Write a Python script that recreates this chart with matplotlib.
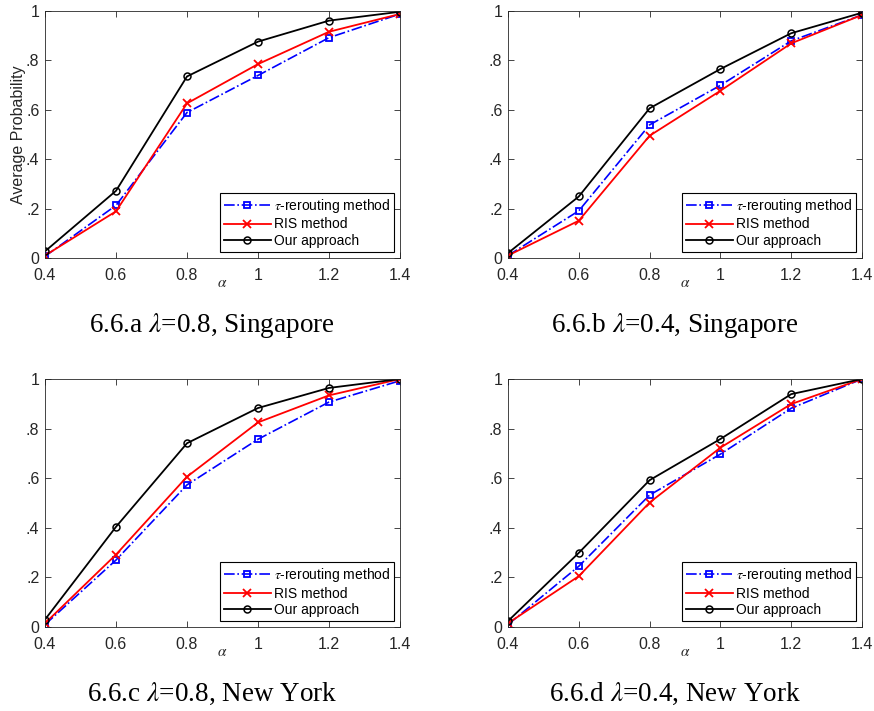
import matplotlib
matplotlib.use("Agg")
import matplotlib.pyplot as plt

plt.rcParams['font.family'] = ['Liberation Sans', 'DejaVu Sans']
plt.rcParams['mathtext.fontset'] = 'stix'

alpha = [0.4, 0.6, 0.8, 1.0, 1.2, 1.4]
xtick_labels = ['0.4', '0.6', '0.8', '1', '1.2', '1.4']
ytick_vals = [0, 0.2, 0.4, 0.6, 0.8, 1.0]
ytick_labels = ['0', '.2', '.4', '.6', '.8', '1']

# (a) lambda=0.8, Singapore
tau_a = [0.007, 0.213, 0.589, 0.739, 0.892, 0.988]
ris_a = [0.010, 0.189, 0.626, 0.785, 0.916, 0.988]
our_a = [0.027, 0.272, 0.735, 0.876, 0.961, 0.997]
# (b) lambda=0.4, Singapore
tau_b = [0.010, 0.191, 0.539, 0.699, 0.879, 0.984]
ris_b = [0.010, 0.151, 0.495, 0.677, 0.869, 0.984]
our_b = [0.020, 0.249, 0.606, 0.765, 0.910, 0.993]
# (c) lambda=0.8, New York
tau_c = [0.010, 0.270, 0.573, 0.757, 0.907, 0.993]
ris_c = [0.015, 0.292, 0.606, 0.825, 0.934, 1.000]
our_c = [0.030, 0.404, 0.741, 0.883, 0.964, 1.000]
# (d) lambda=0.4, New York
tau_d = [0.010, 0.245, 0.532, 0.697, 0.882, 1.000]
ris_d = [0.015, 0.205, 0.502, 0.723, 0.899, 1.000]
our_d = [0.024, 0.299, 0.592, 0.758, 0.939, 1.000]

captions = [r'6.6.a $\lambda$=0.8, Singapore', r'6.6.b $\lambda$=0.4, Singapore',
            r'6.6.c $\lambda$=0.8, New York', r'6.6.d $\lambda$=0.4, New York']
panels = [(tau_a, ris_a, our_a), (tau_b, ris_b, our_b),
          (tau_c, ris_c, our_c), (tau_d, ris_d, our_d)]

W, H = 874, 711
fig = plt.figure(figsize=(W / 100, H / 100), dpi=100)

# axes boxes in pixels: left, top, right, bottom
boxes = [(45, 11, 400, 258), (508, 11, 862, 258),
         (45, 379, 400, 627), (508, 379, 862, 627)]
cap_pos = [(212, 325), (675, 325), (212, 694), (675, 694)]

gray = '#262626'
for i, (tau, ris, our) in enumerate(panels):
    l, t, r, b = boxes[i]
    ax = fig.add_axes([l / W, 1 - b / H, (r - l) / W, (b - t) / H])
    ax.plot(alpha, tau, color='blue', linestyle='-.', marker='s', markersize=4,
            markerfacecolor='none', markeredgewidth=1.3, linewidth=1.2,
            label=r'$\tau$-rerouting method')
    ax.plot(alpha, ris, color='red', linestyle='-', marker='x', markersize=6,
            markeredgewidth=1.3, linewidth=1.3, label='RIS method')
    ax.plot(alpha, our, color='black', linestyle='-', marker='o', markersize=5,
            markerfacecolor='none', markeredgewidth=1.1, linewidth=1.3,
            label='Our approach')
    ax.set_xlim(0.4, 1.4)
    ax.set_ylim(0, 1)
    ax.set_xticks(alpha)
    ax.set_xticklabels(xtick_labels)
    ax.set_yticks(ytick_vals)
    ax.set_yticklabels(ytick_labels)
    ax.tick_params(direction='in', top=True, right=True, length=4, width=0.6,
                   labelsize=11.5, colors=gray)
    ax.tick_params(axis='x', pad=7)
    ax.tick_params(axis='y', pad=4)
    for s in ax.spines.values():
        s.set_color(gray)
        s.set_linewidth(0.6)
    ax.set_xlabel(r'$\alpha$', fontsize=11, color=gray, labelpad=-5)
    if i == 0:
        ax.set_ylabel('Average Probability', fontsize=11.5, color=gray, labelpad=0)
    leg = ax.legend(loc='lower right', fontsize=10, frameon=True, fancybox=False,
                    edgecolor='black', framealpha=1, handlelength=3.4,
                    borderaxespad=0.4, borderpad=0.3, labelspacing=0.2,
                    handletextpad=0.2)
    leg.get_frame().set_linewidth(0.8)
    cx, cy = cap_pos[i]
    fig.text(cx / W, 1 - cy / H, captions[i], ha='center', va='center',
             fontsize=19.5, family='Liberation Serif')

fig.savefig('out.png', dpi=100)
